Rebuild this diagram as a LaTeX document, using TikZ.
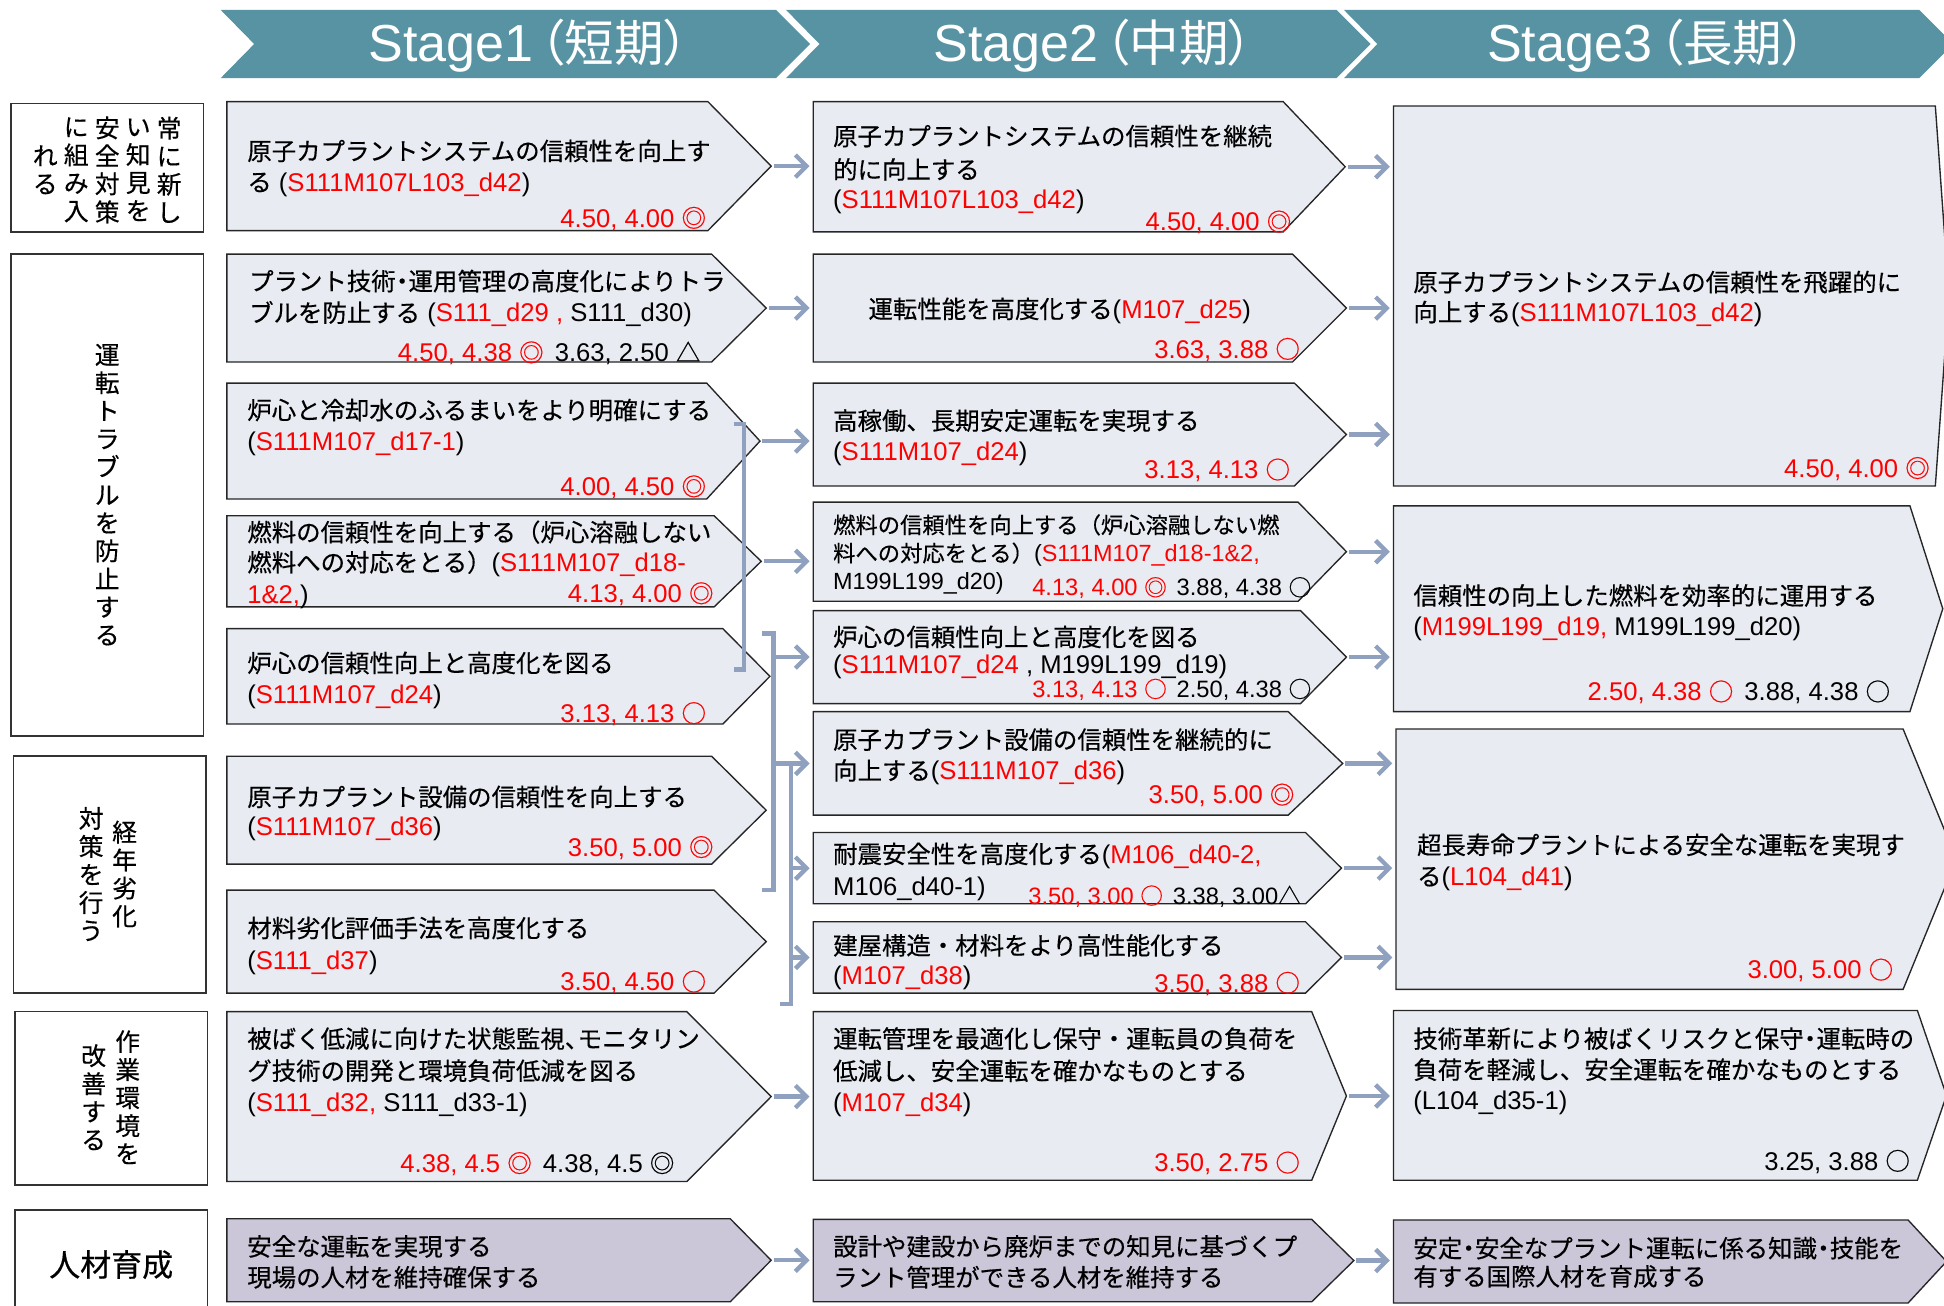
\documentclass[tikz,border=0pt]{standalone}
\usepackage{fontspec}
\usetikzlibrary{arrows.meta}
\setmainfont{Liberation Sans}[Scale=1.05]
\newfontfamily\cjkfont{Noto Sans CJK JP}[FakeBold=0.4]
\newfontfamily\cjkP{Noto Sans CJK JP}[RawFeature=+palt]
\newcommand\latfont{\rmfamily}
% automatic switch between Latin and Japanese fonts
\XeTeXinterchartokenstate=1
\chardef\jpcls=7
\newcount\jpc
\def\setjprange#1#2{\jpc=#1\relax\loop\XeTeXcharclass\jpc=\jpcls\relax\ifnum\jpc<#2\relax\advance\jpc by 1\relax\repeat}
\setjprange{"3000}{"30FF}
\setjprange{"4E00}{"9FFF}
\setjprange{"FF00}{"FFEF}
\setjprange{"25A0}{"25FF}
\XeTeXinterchartoks 0 \jpcls = {\cjkfont}
\XeTeXinterchartoks 4095 \jpcls = {\cjkfont}
\XeTeXinterchartoks \jpcls 0 = {\latfont}
\XeTeXinterchartoks \jpcls 4095 = {\latfont}

\definecolor{hdr}{HTML}{5793A2}
\definecolor{boxfill}{HTML}{E8EBF1}
\definecolor{purp}{HTML}{CCC6D9}
\definecolor{arrc}{HTML}{8FA1BE}
\newcommand\rtxt[1]{\textcolor{red}{#1}}
\newcommand\nd{\makebox[0.5em][c]{・}}
\newcommand\nc{\makebox[0.5em][l]{、}}
\newcounter{tn}
\newcommand\jl[4][]{\stepcounter{tn}\node[jt,anchor=base west,#1] (t\the\value{tn}) at (#2,#3) {#4};}
\newcommand\jr[4][]{\stepcounter{tn}\node[jt,anchor=base east,#1] (t\the\value{tn}) at (#2,#3) {#4};}
\newcommand\chev[7]{%
  \path[#7] (#2,#3) -- (#4,#3) -- (#5,{(#3+#6)/2}) -- (#4,#6) -- (#2,#6) -- cycle;
  \coordinate (#1-tip) at (#5,{(#3+#6)/2});
  \coordinate (#1-w) at (#2,{(#3+#6)/2});}
\newcommand\hchev[2]{\path[hd] (#1,8) -- (#2,8) -- ({#2+27.5},35.5) -- (#2,63) -- (#1,63) -- ({#1+27},35.5) -- cycle;}

\tikzset{
  jt/.style={inner sep=0pt, outer sep=0pt, font=\fontsize{19.7}{25}\selectfont, text=black},
  js/.style={font=\fontsize{18}{23}\selectfont},
  jn/.style={font=\fontsize{18.2}{23}\selectfont},
  bx/.style={fill=boxfill, draw=black!85, line width=1.1pt},
  pb/.style={fill=purp, draw=black!85, line width=1.1pt},
  lab/.style={draw=black!80, line width=1.3pt, fill=white},
  vt/.style={inner sep=0pt, align=center, font=\fontsize{20}{22.6}\selectfont},
  arr/.style={draw=arrc, line width=3.5pt, -{Straight Barb[length=9pt,width=18pt]}, shorten <=2pt, shorten >=3pt},
  arrb/.style={arr, shorten <=0pt},
  brk/.style={draw=arrc, line width=3.5pt},
  hd/.style={fill=hdr, draw=none},
  hdt/.style={text=white, inner sep=0pt, font=\fontsize{40}{44}\selectfont\let\cjkfont\cjkP},
}

\begin{document}
\begin{tikzpicture}[x=1pt,y=-1pt]
\useasboundingbox (0,0) rectangle (1568,1053.4);

% header
\hchev{178}{626}
\hchev{634}{1078}
\hchev{1084}{1548}
\node[hdt,anchor=base] (h1) at (426.5,49.5) {Stage1\kern5pt（短期）};
\node[hdt,anchor=base] (h2) at (882,49.5) {Stage2\kern5pt（中期）};
\node[hdt,anchor=base] (h3) at (1328.5,49.5) {Stage3\kern5pt（長期）};

% left labels
\draw[lab] (9,83.4) rectangle (164,187);
\draw[lab] (9,205) rectangle (164,593.7);
\draw[lab] (11,610) rectangle (166,801);
\draw[lab] (12,816) rectangle (167.5,956);
\draw[lab] (12,976) rectangle (167.5,1060);
\node[vt] (v11) at (136.5,137) {常\\に\\新\\し};
\node[vt] (v12) at (111.5,137) {い\\知\\見\\を};
\node[vt] (v13) at (86.5,137) {安\\全\\対\\策};
\node[vt] (v14) at (61.5,137) {に\\組\\み\\入};
\node[vt] (v15) at (36.5,137) {れ\\る};
\node[vt] (v2) at (86.5,399) {運\\転\\ト\\ラ\\ブ\\ル\\を\\防\\止\\す\\る};
\node[vt] (v31) at (100.5,705) {経\\年\\劣\\化};
\node[vt] (v32) at (73.5,705) {対\\策\\を\\行\\う};
\node[vt] (v41) at (103,885) {作\\業\\環\\境\\を};
\node[vt] (v42) at (75.5,885) {改\\善\\す\\る};
\node[inner sep=0pt,font=\fontsize{25}{30}\selectfont] (v5) at (89.7,1020) {人材育成};

% stage 1 boxes
\chev{p1}{183}{82}{571}{622}{186}{bx}
\chev{p2}{183}{205}{574}{618}{292}{bx}
\chev{p3}{183}{309}{570}{613}{402.5}{bx}
\chev{p4}{183}{416}{576}{614}{489.5}{bx}
\chev{p5}{183}{507}{583}{621}{584}{bx}
\chev{p6}{183}{610}{574}{618}{697}{bx}
\chev{p7}{183}{718}{576}{618}{801}{bx}
\chev{p8}{183}{816}{554}{622}{953}{bx}
\chev{p9}{183}{983}{589}{622}{1050}{pb}
% stage 2 boxes
\chev{q1}{656}{82}{1035}{1085}{187}{bx}
\chev{q2}{656}{205}{1042.5}{1086}{292}{bx}
\chev{q3}{656}{309}{1044}{1086}{392}{bx}
\chev{q4}{656}{405}{1047}{1086}{485}{bx}
\chev{q5}{656}{492.5}{1049}{1086}{567.5}{bx}
\chev{q6}{656}{574}{1039}{1083}{657.5}{bx}
\chev{q7}{656}{671.5}{1053}{1082}{729}{bx}
\chev{q8}{656}{743.5}{1053}{1082}{801}{bx}
\chev{q9}{656}{816}{1058}{1086}{952}{bx}
\chev{q10}{656}{983.5}{1058}{1092}{1050}{pb}
% stage 3 boxes
\chev{r1}{1124}{85.5}{1561}{1572}{392}{bx}
\chev{r2}{1124}{408}{1540.5}{1567}{574}{bx}
\chev{r3}{1126}{588}{1535}{1578}{798}{bx}
\chev{r4}{1124}{815}{1546.5}{1570}{952}{bx}
\chev{r5}{1124}{984}{1539}{1570}{1051}{pb}

% brackets
\coordinate (k1t) at (600,342); \coordinate (k1b) at (600,540);
\draw[brk] (592,342) -- (k1t) -- (k1b) -- (592,540);
\coordinate (k2t) at (624,511); \coordinate (k2b) at (624,718);
\draw[brk] (615,511) -- (k2t) -- (k2b) -- (615,718);
\coordinate (k3t) at (638,616); \coordinate (k3b) at (638,810);
\draw[brk] (629,616) -- (k3t) -- (k3b) -- (629,810);

% arrows stage 1 -> stage 2
\draw[arr] (p1-tip) -- (p1-tip -| q1-w);
\draw[arr] (p2-tip) -- (p2-tip -| q2-w);
\draw[arr] (p3-tip) -- (p3-tip -| q3-w);
\draw[arr] (p4-tip) -- (p4-tip -| q4-w);
\draw[arrb] (k2t |- q5-w) -- (q5-w);
\draw[arrb] (k2t |- q6-w) -- (q6-w);
\draw[arrb] (k3t |- q7-w) -- (q7-w);
\draw[arrb] (k3t |- q8-w) -- (q8-w);
\draw[arr] (p8-tip) -- (p8-tip -| q9-w);
\draw[arr] (p9-tip) -- (p9-tip -| q10-w);
% arrows stage 2 -> stage 3
\draw[arr] (q1-tip) -- (q1-tip -| r1-w);
\draw[arr] (q2-tip) -- (q2-tip -| r1-w);
\draw[arr] (q3-tip) -- (q3-tip -| r1-w);
\draw[arr] (q4-tip) -- (q4-tip -| r2-w);
\draw[arr] (q5-tip) -- (q5-tip -| r2-w);
\draw[arr] (q6-tip) -- (q6-tip -| r3-w);
\draw[arr] (q7-tip) -- (q7-tip -| r3-w);
\draw[arr] (q8-tip) -- (q8-tip -| r3-w);
\draw[arr] (q9-tip) -- (q9-tip -| r4-w);
\draw[arr] (q10-tip) -- (q10-tip -| r5-w);

% stage 1 texts
\jl{199.5}{129.2}{原子カプラントシステムの信頼性を向上す}
\jl{199.5}{154.2}{る (\rtxt{S111M107L103\_d42})}
\jr{569.5}{183.2}{\rtxt{4.50, 4.00 ◎}}
\jl{201}{234.2}{プラント技術\nd 運用管理の高度化によりトラ}
\jl{201}{259.7}{ブルを防止する (\rtxt{S111\_d29 ,} S111\_d30)}
\jl{321}{291.7}{\rtxt{4.50, 4.38 ◎}\hspace{9pt}3.63, 2.50 △}
\jl{199.5}{338.2}{炉心と冷却水のふるまいをより明確にする}
\jl{199.5}{363.2}{(\rtxt{S111M107\_d17-1})}
\jr{569.5}{399.8}{\rtxt{4.00, 4.50 ◎}}
\jl{199.5}{436.7}{燃料の信頼性を向上する（炉心溶融しない}
\jl{199.5}{461}{燃料への対応をとる）(\rtxt{S111M107\_d18-}}
\jl{199.5}{487}{\rtxt{1\&2,})}
\jr{575.5}{486}{\rtxt{4.13, 4.00 ◎}}
\jl{199.5}{542.2}{炉心の信頼性向上と高度化を図る}
\jl{199.5}{567.2}{(\rtxt{S111M107\_d24})}
\jr{569.5}{582.7}{\rtxt{3.13, 4.13 ○}}
\jl{199.5}{650.2}{原子カプラント設備の信頼性を向上する}
\jl{199.5}{674.2}{(\rtxt{S111M107\_d36})}
\jr{575.5}{690.7}{\rtxt{3.50, 5.00 ◎}}
\jl{199.5}{756}{材料劣化評価手法を高度化する}
\jl{199.5}{781.7}{(\rtxt{S111\_d37})}
\jr{569.5}{799.2}{\rtxt{3.50, 4.50 ○}}
\jl{199.5}{845.2}{被ばく低減に向けた状態監視\nc モニタリン}
\jl{199.5}{871.1}{グ技術の開発と環境負荷低減を図る}
\jl{199.5}{896.2}{(\rtxt{S111\_d32,} S111\_d33-1)}
\jl{323}{945.6}{\rtxt{4.38, 4.5 ◎}\hspace{9pt}4.38, 4.5 ◎}
\jl{199.5}{1012.8}{安全な運転を実現する}
\jl{199.5}{1037.7}{現場の人材を維持確保する}

% stage 2 texts
\jl{672}{117.2}{原子カプラントシステムの信頼性を継続}
\jl{672}{144.2}{的に向上する}
\jl{672}{168.2}{(\rtxt{S111M107L103\_d42})}
\jr{1041.5}{186.2}{\rtxt{4.50, 4.00 ◎}}
\jl{700.5}{256.6}{運転性能を高度化する(\rtxt{M107\_d25})}
\jr{1048.5}{288.9}{\rtxt{3.63, 3.88 ○}}
\jl{672}{346.7}{高稼働、長期安定運転を実現する}
\jl{672}{371.2}{(\rtxt{S111M107\_d24})}
\jr{1040.5}{386.2}{\rtxt{3.13, 4.13 ○}}
\jl[js]{672}{430.2}{燃料の信頼性を向上する（炉心溶融しない燃}
\jl[js]{672}{453}{料への対応をとる）(\rtxt{S111M107\_d18-1\&2,}}
\jl[js]{672}{475.4}{M199L199\_d20)}
\jl[jn]{832.6}{480.6}{\rtxt{4.13, 4.00 ◎}\hspace{8pt}3.88, 4.38 ○}
\jl{672}{521.2}{炉心の信頼性向上と高度化を図る}
\jl{672}{543}{(\rtxt{S111M107\_d24} , M199L199\_d19)}
\jl[jn]{832.6}{562.6}{\rtxt{3.13, 4.13 ○}\hspace{8pt}2.50, 4.38 ○}
\jl{672}{604}{原子カプラント設備の信頼性を継続的に}
\jl{672}{628.9}{向上する(\rtxt{S111M107\_d36})}
\jr{1044}{648.4}{\rtxt{3.50, 5.00 ◎}}
\jl{672}{696.2}{耐震安全性を高度化する(\rtxt{M106\_d40-2,}}
\jl{672}{722.2}{M106\_d40-1)}
\jl[jn]{829.5}{729.3}{\rtxt{3.50, 3.00 ○}\hspace{8pt}3.38, 3.00△}
\jl{672}{770}{建屋構造・材料をより高性能化する}
\jl{672}{794.2}{(\rtxt{M107\_d38})}
\jr{1048.5}{800.2}{\rtxt{3.50, 3.88 ○}}
\jl{672}{845.2}{運転管理を最適化し保守・運転員の負荷を}
\jl{672}{871.2}{低減し、安全運転を確かなものとする}
\jl{672}{896.2}{(\rtxt{M107\_d34})}
\jr{1048.5}{945.2}{\rtxt{3.50, 2.75 ○}}
\jl{672}{1012.8}{設計や建設から廃炉までの知見に基づくプ}
\jl{672}{1037.7}{ラント管理ができる人材を維持する}

% stage 3 texts
\jl{1140}{235}{原子カプラントシステムの信頼性を飛躍的に}
\jl{1140}{259.2}{向上する(\rtxt{S111M107L103\_d42})}
\jr{1556.5}{385}{\rtxt{4.50, 4.00 ◎}}
\jl{1140}{487.8}{信頼性の向上した燃料を効率的に運用する}
\jl{1140}{512.8}{(\rtxt{M199L199\_d19,} M199L199\_d20)}
\jr{1524.5}{565.2}{\rtxt{2.50, 4.38 ○}\hspace{9pt}3.88, 4.38 ○}
\jl{1143}{688.9}{超長寿命プラントによる安全な運転を実現す}
\jl{1143}{714.2}{る(\rtxt{L104\_d41})}
\jr{1527}{789.6}{\rtxt{3.00, 5.00 ○}}
\jl{1140}{845.2}{技術革新により被ばくリスクと保守\nd 運転時の}
\jl{1140}{870.2}{負荷を軽減し、安全運転を確かなものとする}
\jl{1140}{895.2}{(L104\_d35-1)}
\jr{1540.5}{943.8}{3.25, 3.88 ○}
\jl{1140}{1014.2}{安定\nd 安全なプラント運転に係る知識\nd 技能を}
\jl{1140}{1037}{有する国際人材を育成する}
\end{tikzpicture}
\end{document}
